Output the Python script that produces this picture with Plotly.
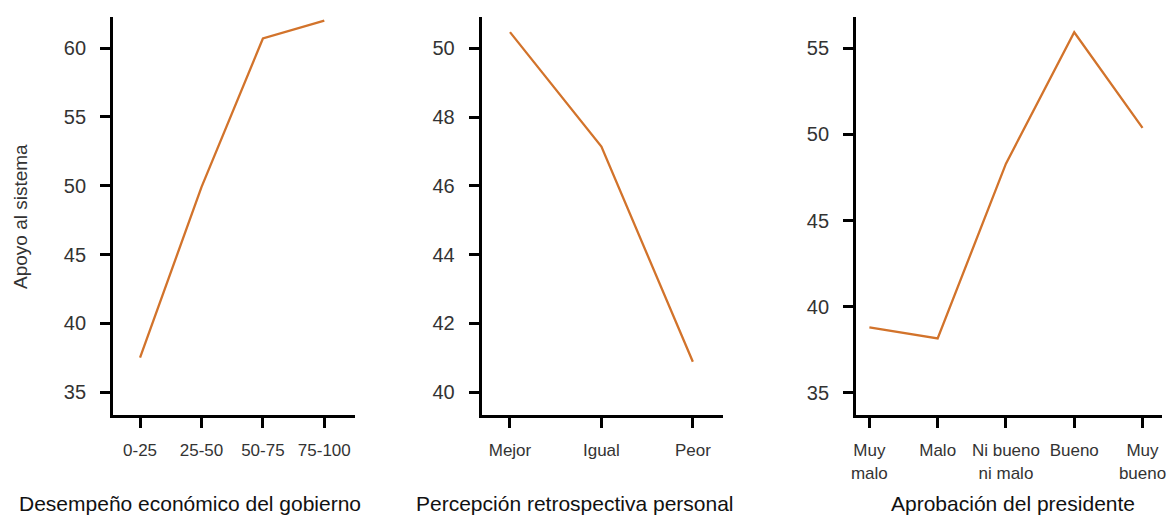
import plotly.graph_objects as go

# data
econ_cats = ["0-25", "25-50", "50-75", "75-100"]
econ_vals = [37.5, 49.9, 60.7, 62.0]

retro_cats = ["Mejor", "Igual", "Peor"]
retro_vals = [50.47, 47.14, 40.88]

aprob_cats = ["Muy<br>malo", "Malo", "Ni bueno<br>ni malo", "Bueno", "Muy<br>bueno"]
aprob_vals = [38.8, 38.15, 48.3, 55.93, 50.38]

titles = ["Desempeño económico del gobierno", "Percepción retrospectiva personal", "Aprobación del presidente"]

line_color = "#D2732B"
font_fam = "Liberation Sans, Arial, sans-serif"

fig = go.Figure()
fig.add_trace(go.Scatter(x=list(range(len(econ_cats))), y=econ_vals, mode="lines",
                         line=dict(color=line_color, width=2.3), xaxis="x", yaxis="y"))
fig.add_trace(go.Scatter(x=list(range(len(retro_cats))), y=retro_vals, mode="lines",
                         line=dict(color=line_color, width=2.3), xaxis="x2", yaxis="y2"))
fig.add_trace(go.Scatter(x=list(range(len(aprob_cats))), y=aprob_vals, mode="lines",
                         line=dict(color=line_color, width=2.3), xaxis="x3", yaxis="y3"))

ydom = [0.194, 0.967]
base = dict(showline=True, linecolor="black", linewidth=3, ticks="outside",
            ticklen=10, tickwidth=3, tickcolor="black", showgrid=False, zeroline=False,
            automargin=False)
xfont = dict(family=font_fam, size=17, color="#333333")
yfont = dict(family=font_fam, size=20, color="#333333")

fig.update_layout(
    width=1169, height=515,
    margin=dict(l=0, r=0, t=0, b=0, autoexpand=False),
    plot_bgcolor="white", paper_bgcolor="white",
    showlegend=False,
    xaxis=dict(domain=[0.0967, 0.3037], range=[-0.44, 3.5], anchor="y",
               tickvals=list(range(len(econ_cats))), ticktext=econ_cats,
               tickfont=xfont, ticklabelstandoff=8, **base),
    yaxis=dict(domain=ydom, range=[33.33, 62.26], anchor="x",
               tickvals=[35, 40, 45, 50, 55, 60], tickfont=yfont, ticklabelstandoff=10, **base),
    xaxis2=dict(domain=[0.412, 0.6185], range=[-0.31, 2.33], anchor="y2",
                tickvals=list(range(len(retro_cats))), ticktext=retro_cats,
                tickfont=xfont, ticklabelstandoff=8, **base),
    yaxis2=dict(domain=ydom, range=[39.33, 50.91], anchor="x2",
                tickvals=[40, 42, 44, 46, 48, 50], tickfont=yfont, ticklabelstandoff=10, **base),
    xaxis3=dict(domain=[0.7323, 0.9937], range=[-0.195, 4.28], anchor="y3",
                tickvals=list(range(len(aprob_cats))), ticktext=aprob_cats,
                tickfont=xfont, ticklabelstandoff=8, **base),
    yaxis3=dict(domain=ydom, range=[33.7, 56.82], anchor="x3",
                tickvals=[35, 40, 45, 50, 55], tickfont=yfont, ticklabelstandoff=10, **base),
)

# axis titles as annotations
for xc, t in zip([190 / 1169, 575 / 1169, 1013 / 1169], titles):
    fig.add_annotation(x=xc, y=1 - 503 / 515, xref="paper", yref="paper", text=t,
                       showarrow=False, xanchor="center", yanchor="middle",
                       font=dict(family=font_fam, size=21, color="#111111"))

fig.add_annotation(x=20 / 1169, y=1 - 217 / 515, xref="paper", yref="paper",
                   text="Apoyo al sistema", textangle=-90, showarrow=False,
                   xanchor="center", yanchor="middle",
                   font=dict(family=font_fam, size=19, color="#333333"))

# page body has a default 8px margin; remove it so the figure fills the window
fig.write_html("out.html", config={"displayModeBar": False},
               post_script="document.body.style.margin='0';")
